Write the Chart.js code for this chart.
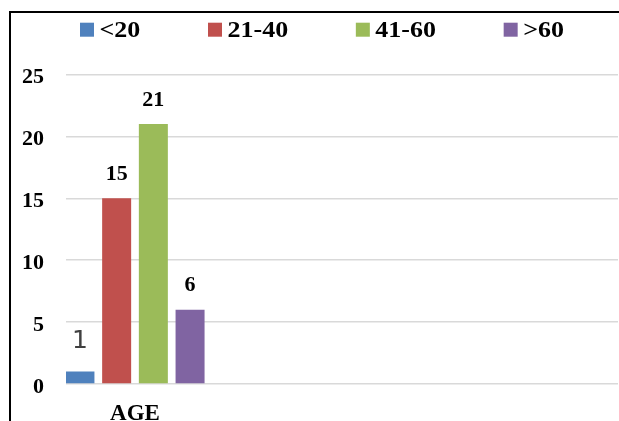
<!DOCTYPE html>
<html>
<head>
<meta charset="utf-8">
<script src="https://cdn.jsdelivr.net/npm/chart.js@4.4.1/dist/chart.umd.min.js"></script>
<style>
  html, body { margin: 0; padding: 0; background: #ffffff; overflow: hidden; }
  #wrap { position: relative; width: 619px; height: 421px; overflow: hidden; background: #fff; }
  #frame { position: absolute; left: 9px; top: 11px; width: 700px; height: 500px;
           border-left: 2px solid #000; border-top: 2px solid #000; pointer-events: none; }
  canvas { position: absolute; left: 0; top: 0; }
</style>
</head>
<body>
<div id="wrap">
  <canvas id="c" width="619" height="421"></canvas>
  <div id="frame"></div>
</div>
<script>
// ---- data ----
const categories = ["AGE", "", "", ""];
const seriesNames = ["<20", "21-40", "41-60", ">60"];
const seriesColors = ["#4f81bd", "#c0504d", "#9bbb59", "#8064a2"];
const under20 = [1, null, null, null];
const age21to40 = [15, null, null, null];
const age41to60 = [21, null, null, null];
const over60 = [6, null, null, null];
const yTicks = [0, 5, 10, 15, 20, 25];

// ---- label styles (per series) ----
const labelStyles = [
  { font: "normal 25px 'DejaVu Sans'", color: "#404040", offset: 30 },
  { font: "bold 22px 'Liberation Serif'", color: "#000000", offset: 24 },
  { font: "bold 22px 'Liberation Serif'", color: "#000000", offset: 24 },
  { font: "bold 22px 'Liberation Serif'", color: "#000000", offset: 24 }
];
const legendStyle = { font: "bold 23px 'Liberation Serif'", stretch: 1.13, x: 80, y: 29.7, box: 14, gap: 5.5, spacing: 67.7 };

const seriesValues = [under20, age21to40, age41to60, over60];

const valueLabels = {
  id: 'valueLabels',
  afterDatasetsDraw(chart) {
    const ctx = chart.ctx;
    chart.data.datasets.forEach((ds, i) => {
      const meta = chart.getDatasetMeta(i);
      const st = labelStyles[i];
      meta.data.forEach((el, j) => {
        const v = ds.data[j];
        if (v === null || v === undefined) return;
        ctx.save();
        ctx.font = st.font;
        ctx.fillStyle = st.color;
        ctx.textAlign = 'center';
        ctx.textBaseline = 'middle';
        ctx.fillText(String(v), el.x, el.y - st.offset);
        ctx.restore();
      });
    });
  }
};

const topLegend = {
  id: 'topLegend',
  afterDraw(chart) {
    const ctx = chart.ctx;
    const L = legendStyle;
    let x = L.x;
    ctx.save();
    ctx.font = L.font;
    ctx.textBaseline = 'middle';
    ctx.textAlign = 'left';
    chart.data.datasets.forEach(ds => {
      ctx.fillStyle = ds.backgroundColor;
      ctx.fillRect(x, L.y - L.box / 2, L.box, L.box);
      ctx.fillStyle = '#000';
      const tx = x + L.box + L.gap;
      ctx.save();
      ctx.translate(tx, L.y + 1);
      ctx.scale(L.stretch, 1);
      ctx.fillText(ds.label, 0, 0);
      ctx.restore();
      x = tx + ctx.measureText(ds.label).width * L.stretch + L.spacing;
    });
    ctx.restore();
  }
};

new Chart(document.getElementById('c'), {
  type: 'bar',
  data: {
    labels: categories,
    datasets: seriesNames.map((name, i) => ({
      label: name,
      data: seriesValues[i],
      backgroundColor: seriesColors[i],
      borderWidth: 0
    }))
  },
  options: {
    responsive: false,
    animation: false,
    devicePixelRatio: 1,
    categoryPercentage: 1.064,
    barPercentage: 0.79,
    layout: { padding: { left: 0, right: 1, top: 74.5, bottom: 0 } },
    plugins: {
      tooltip: { enabled: false },
      legend: { display: false }
    },
    scales: {
      x: {
        grid: { display: false, drawTicks: false },
        border: { display: false },
        ticks: {
          color: '#000',
          padding: 16,
          font: { family: "'Liberation Serif'", size: 23, weight: 'bold' }
        },
        afterFit(scale) { scale.height = 37; }
      },
      y: {
        min: 0,
        max: 25,
        afterBuildTicks(scale) { scale.ticks = yTicks.map(v => ({ value: v })); },
        grid: { color: '#d9d9d9', lineWidth: 1.5, drawTicks: false },
        border: { display: false },
        ticks: {
          color: '#000',
          padding: 22,
          labelOffset: 3,
          font: { family: "'Liberation Serif'", size: 22, weight: 'bold' }
        },
        afterFit(scale) { scale.width = 66; }
      }
    }
  },
  plugins: [valueLabels, topLegend]
});
</script>
</body>
</html>
